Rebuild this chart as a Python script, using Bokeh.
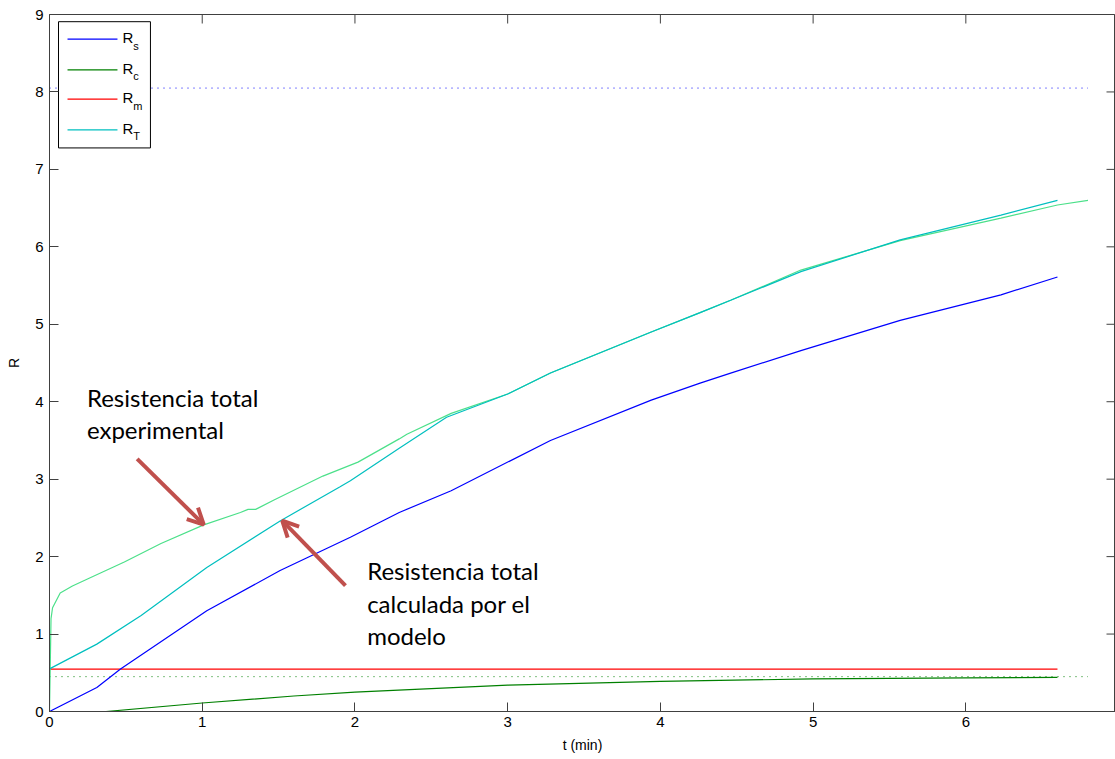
from bokeh.plotting import figure
from bokeh.models import Range1d, FixedTicker, Arrow, OpenHead
from bokeh.core.properties import value
from bokeh.embed import file_html
from bokeh.resources import INLINE

# ---- data ----
t_exp = [0, 0.01, 0.02, 0.07, 0.15, 0.27, 0.49, 0.73, 1.01, 1.25, 1.30, 1.35, 1.47, 1.79, 2.02,
         2.29, 2.34, 2.63, 3.00, 3.28, 3.94, 4.26, 4.46, 4.92, 5.57, 6.23, 6.60, 6.80]
R_exp = [0, 1.20, 1.34, 1.53, 1.62, 1.73, 1.93, 2.17, 2.41, 2.57, 2.61, 2.61, 2.73, 3.04, 3.22,
         3.52, 3.58, 3.85, 4.10, 4.37, 4.90, 5.15, 5.31, 5.70, 6.08, 6.37, 6.54, 6.60]

t_RT = [0, 0.31, 0.60, 1.03, 1.51, 1.90, 1.97, 2.29, 2.60, 3.00, 3.28, 3.94, 4.26, 4.46, 4.92,
        5.57, 6.23, 6.60]
R_RT = [0.55, 0.87, 1.24, 1.86, 2.46, 2.90, 2.98, 3.40, 3.80, 4.10, 4.37, 4.90, 5.15, 5.31, 5.68,
        6.09, 6.41, 6.60]

t_Rs = [0, 0.31, 0.465, 1.03, 1.51, 1.97, 2.29, 2.63, 3.28, 3.94, 4.26, 4.46, 4.92, 5.57, 6.23, 6.60]
R_Rs = [0, 0.31, 0.55, 1.30, 1.82, 2.25, 2.57, 2.85, 3.50, 4.02, 4.24, 4.37, 4.66, 5.05, 5.38, 5.61]

t_Rc = [0, 0.37, 1.0, 1.6, 2.0, 3.0, 4.0, 5.0, 6.0, 6.6]
R_Rc = [0, 0, 0.11, 0.20, 0.25, 0.34, 0.39, 0.42, 0.435, 0.44]

t_Rm = [0, 6.6]
R_Rm = [0.546, 0.546]

t_ref = [0, 6.8]
R_ref_top = [8.05, 8.05]
R_ref_bot = [0.45, 0.45]

x_ticks = [0, 1, 2, 3, 4, 5, 6, 7]
y_ticks = [0, 1, 2, 3, 4, 5, 6, 7, 8, 9]

legend_names = ["s", "c", "m", "T"]
legend_colors = ["#0000FF", "#008000", "#FF0000", "#00BFBF"]

AX = "#404040"
TICKFONT = "Liberation Sans"
X_MAX = 6.98
Y_MAX = 9

p = figure(width=1115, height=759, x_range=Range1d(0, X_MAX), y_range=Range1d(0, Y_MAX),
           output_backend="svg", toolbar_location=None,
           min_border_left=49, min_border_right=0, min_border_top=14, min_border_bottom=48)
p.grid.visible = False
p.outline_line_color = AX
p.background_fill_color = "white"
p.border_fill_color = "white"

for ax, ticks in ((p.xaxis[0], x_ticks), (p.yaxis[0], y_ticks)):
    ax.ticker = FixedTicker(ticks=ticks)
    ax.major_tick_in = 9
    ax.major_tick_out = 0
    ax.minor_tick_line_color = None
    ax.axis_line_color = AX
    ax.major_tick_line_color = AX
    ax.major_label_text_font = TICKFONT
    ax.major_label_text_font_size = "15px"
    ax.major_label_text_color = "black"
    ax.axis_label_text_font = TICKFONT
    ax.axis_label_text_font_size = "14px"
    ax.axis_label_text_font_style = "normal"
    ax.axis_label_text_color = "black"

p.xaxis.axis_label = "t (min)"
p.yaxis.axis_label = "R"
p.xaxis.major_label_standoff = 5
p.xaxis.axis_label_standoff = 7
p.yaxis.major_label_standoff = 6
p.yaxis.axis_label_standoff = 10

# box ticks on the top and right sides (MATLAB style, pointing inward, 9 px)
tick_dy = 9 / 697 * Y_MAX
tick_dx = 9 / 1066 * X_MAX
top_x = [t for t in x_ticks if 0 < t < X_MAX]
p.segment(x0=top_x, x1=top_x, y0=[Y_MAX] * len(top_x), y1=[Y_MAX - tick_dy] * len(top_x),
          line_color=AX, line_width=1)
p.segment(x0=[X_MAX] * len(y_ticks), x1=[X_MAX - tick_dx] * len(y_ticks), y0=y_ticks, y1=y_ticks,
          line_color=AX, line_width=1)

# reference dotted lines
p.line(t_ref, R_ref_top, line_color="#0000FF", line_dash="1 5", line_width=1)
p.line(t_ref, R_ref_bot, line_color="#008000", line_dash="1 5", line_width=1)

# series
p.line(t_Rm, R_Rm, line_color="#FF0000", line_width=1.2)
p.line(t_Rc, R_Rc, line_color="#008000", line_width=1.2)
p.line(t_Rs, R_Rs, line_color="#0000FF", line_width=1.2)
p.line(t_exp, R_exp, line_color="#4CE08A", line_width=1.2)
p.line(t_RT, R_RT, line_color="#00BFBF", line_width=1.2)

# legend box (drawn manually to allow subscripts)
p.quad(left=0.059, right=0.661, top=8.907, bottom=7.277, fill_color="white",
       line_color="black", line_width=1)
leg_y = [8.683, 8.286, 7.907, 7.51]
p.segment(x0=[0.118] * 4, x1=[0.445] * 4, y0=leg_y, y1=leg_y, line_color=legend_colors,
          line_width=1.2)
p.text(x=[0.478] * 4, y=[v + 0.02 for v in leg_y], text=["R"] * 4, text_font=value(TICKFONT),
       text_font_size="15px", text_baseline="middle", text_align="left", text_color="black")
p.text(x=[0.548] * 4, y=[v - 0.085 for v in leg_y], text=legend_names, text_font=value(TICKFONT),
       text_font_size="11px", text_baseline="middle", text_align="left", text_color="black")

# annotations
ANN = "#C0504D"
p.text(x=[0.245, 0.245], y=[4.05, 3.635], text=["Resistencia total", "experimental"],
       text_font=value("Lato"), text_font_size="24px", text_baseline="alphabetic",
       text_align="left", text_color="black")
p.text(x=[2.08, 2.08, 2.08], y=[1.825, 1.39, 0.985],
       text=["Resistencia total", "calculada por el", "modelo"],
       text_font=value("Lato"), text_font_size="24px", text_baseline="alphabetic",
       text_align="left", text_color="black")
p.add_layout(Arrow(x_start=0.574, y_start=3.263, x_end=1.010, y_end=2.413,
                   line_color=ANN, line_width=4,
                   end=OpenHead(size=16, line_color=ANN, line_width=4)))
p.add_layout(Arrow(x_start=1.938, y_start=1.624, x_end=1.524, y_end=2.464,
                   line_color=ANN, line_width=4,
                   end=OpenHead(size=16, line_color=ANN, line_width=4)))

open("out.html", "w").write(file_html(p, INLINE))
